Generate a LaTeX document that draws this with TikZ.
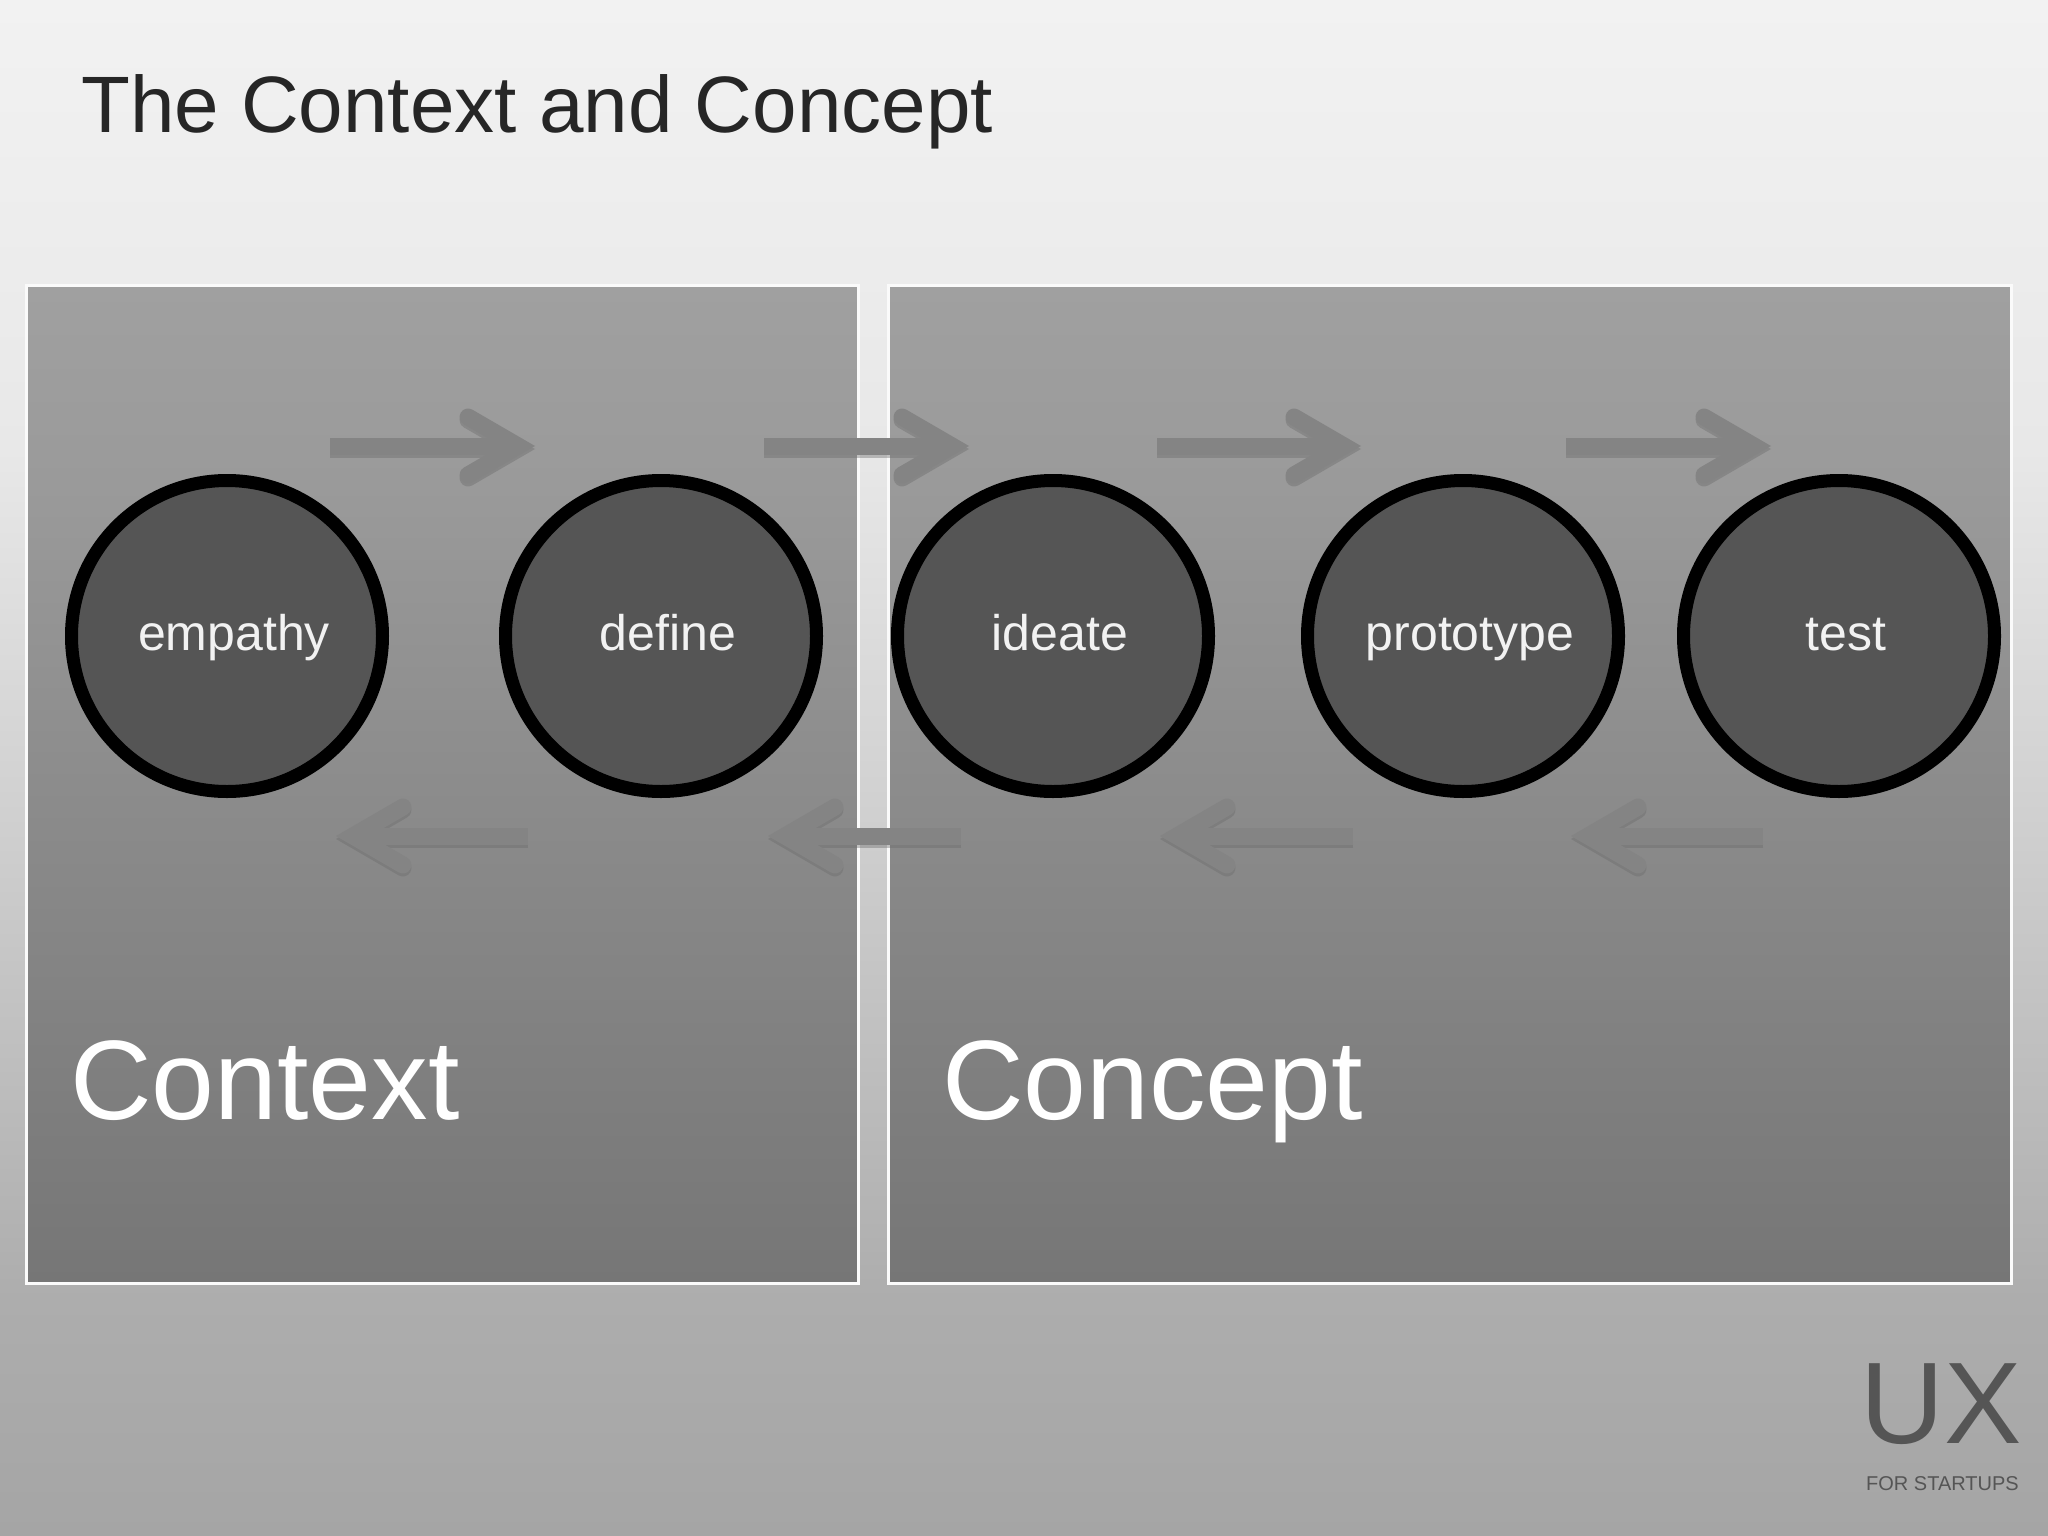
\documentclass[tikz,border=0pt]{standalone}
\usepackage{fontspec}
\setmainfont{Liberation Sans}
\usetikzlibrary{arrows.meta}
\definecolor{bgA}{HTML}{A5A5A5}
\definecolor{bgB}{HTML}{ADADAD}
\definecolor{bgC}{HTML}{CFCFCF}
\definecolor{bgD}{HTML}{E8E8E8}
\definecolor{bgE}{HTML}{F2F2F2}
\definecolor{bxA}{HTML}{767676}
\definecolor{bxB}{HTML}{8C8C8C}
\definecolor{bxC}{HTML}{9A9A9A}
\definecolor{bxD}{HTML}{A0A0A0}
\definecolor{circfill}{HTML}{555555}
\definecolor{labcol}{HTML}{F2F2F2}
\definecolor{titlecol}{HTML}{262626}
\definecolor{arrcol}{HTML}{848484}
\definecolor{shadcol}{HTML}{6A6A6A}
\definecolor{logocol}{HTML}{555555}
\pgfdeclareverticalshading{bgshade}{100bp}{color(0bp)=(bgA); color(25bp)=(bgA); color(32.7bp)=(bgB); color(48bp)=(bgC); color(60.4bp)=(bgD); color(75bp)=(bgE); color(100bp)=(bgE)}
\pgfdeclareverticalshading{boxshade}{100bp}{color(0bp)=(bxA); color(25bp)=(bxA); color(50bp)=(bxB); color(65bp)=(bxC); color(75bp)=(bxD); color(100bp)=(bxD)}
\tikzset{
  panel/.style={rectangle, shading=boxshade, draw=white!96!gray, line width=3pt, inner sep=0pt},
  phase/.style={circle, draw=black, line width=13pt, fill=circfill, minimum size=311pt, inner sep=0pt,
    text=labcol, font=\fontsize{50}{60}\selectfont, text height=38pt, text depth=10pt,
    execute at begin node={\hskip 14pt}},
  barb/.style={-{Straight Barb[length=50pt,width=58pt,line width=17pt,line cap=round,line join=miter]}},
  flowarrow/.style={draw=arrcol, line width=17pt, barb,
    preaction={draw=shadcol, draw opacity=0.4, line width=17pt, barb, transform canvas={yshift=-3pt}}},
  bigword/.style={anchor=base west, inner sep=0pt, text=white, font=\fontsize{113}{130}\selectfont},
}
\begin{document}
\begin{tikzpicture}[x=1pt, y=-1pt]
\useasboundingbox (0,0) rectangle (2048,1536);
\shade[shading=bgshade] (0,0) rectangle (2048,1536);

\node[anchor=base west, inner sep=0pt, text=titlecol, font=\fontsize{80}{96}\selectfont] (title) at (81,133) {The Context and Concept};

\node[panel, minimum width=832pt, minimum height=998pt] (ctxbox) at (442,784) {};
\node[panel, minimum width=1123pt, minimum height=998pt] (cptbox) at (1449.5,784) {};

\node[phase] (empathy) at (227,636) {empathy};
\node[phase] (define) at (661,636) {define};
\node[phase] (ideate) at (1053,636) {ideate};
\node[phase] (prototype) at (1463,636) {prototype};
\node[phase] (test) at (1839,636) {test};

\coordinate (u1s) at (330,446); \coordinate (u1e) at (535,446);
\coordinate (u2s) at (764,446); \coordinate (u2e) at (969,446);
\coordinate (u3s) at (1157,446); \coordinate (u3e) at (1361,446);
\coordinate (u4s) at (1566,446); \coordinate (u4e) at (1771,446);
\coordinate (l1s) at (528,836); \coordinate (l1e) at (336,836);
\coordinate (l2s) at (961,836); \coordinate (l2e) at (768,836);
\coordinate (l3s) at (1353,836); \coordinate (l3e) at (1160,836);
\coordinate (l4s) at (1763,836); \coordinate (l4e) at (1571,836);

\draw[flowarrow] (u1s) -- (u1e);
\draw[flowarrow] (u2s) -- (u2e);
\draw[flowarrow] (u3s) -- (u3e);
\draw[flowarrow] (u4s) -- (u4e);
\draw[flowarrow] (l1s) -- (l1e);
\draw[flowarrow] (l2s) -- (l2e);
\draw[flowarrow] (l3s) -- (l3e);
\draw[flowarrow] (l4s) -- (l4e);

\node[bigword] (context) at (70,1119) {Context};
\node[bigword] (concept) at (942,1119) {Concept};

\node[anchor=base east, inner sep=0pt, text=logocol, font=\fontsize{116}{130}\selectfont] (ux) at (2022,1443) {UX};
\node[anchor=base east, inner sep=0pt, text=logocol, font=\fontsize{20}{24}\selectfont] (startups) at (2019,1490) {FOR STARTUPS};
\end{tikzpicture}
\end{document}
